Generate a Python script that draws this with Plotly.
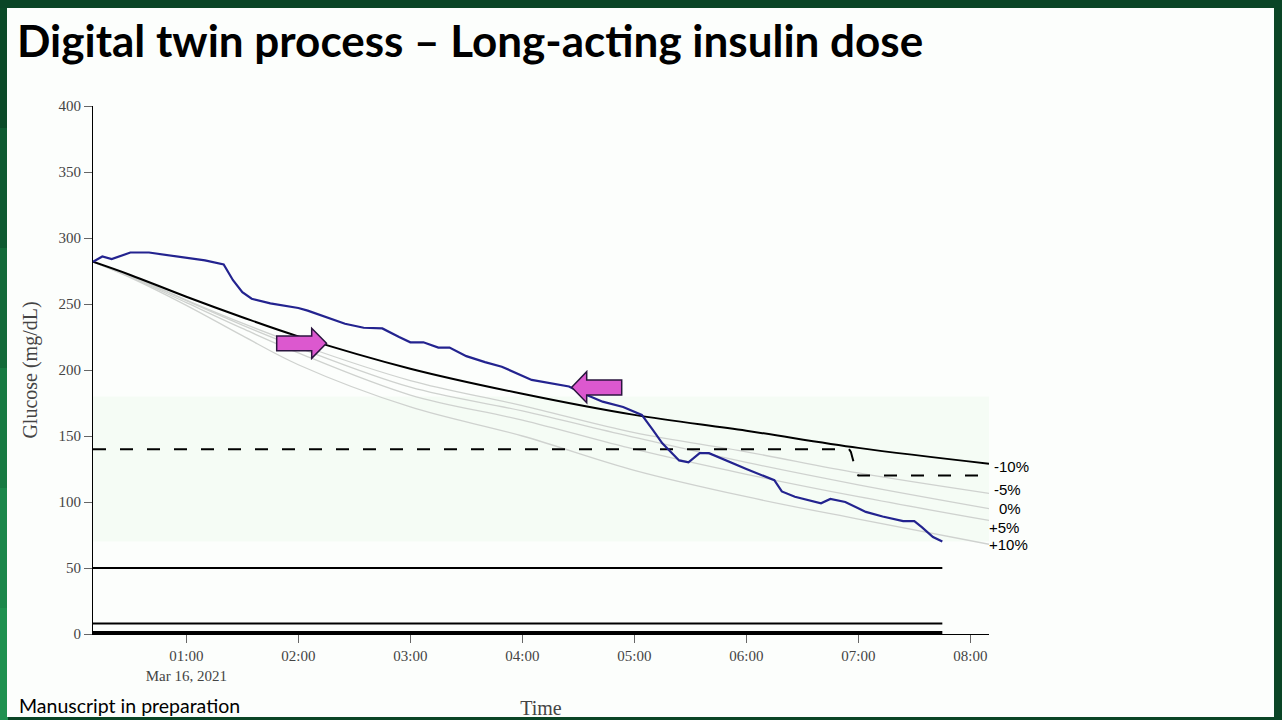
import plotly.graph_objects as go

DAY = "2021-03-16 "

# ---- CGM (measured glucose) ----
cgm_times = ["00:10", "00:15", "00:20", "00:30", "00:40", "01:10", "01:20", "01:25", "01:30",
             "01:35", "01:45", "02:00", "02:05", "02:15", "02:25", "02:35", "02:45", "02:54",
             "03:00", "03:07", "03:15", "03:21", "03:30", "03:40", "03:49", "04:05", "04:14",
             "04:25", "04:32", "04:43", "04:54", "05:04", "05:10", "05:15", "05:24", "05:29",
             "05:35", "05:40", "06:00", "06:10", "06:15", "06:19", "06:26", "06:40", "06:45",
             "06:53", "07:04", "07:13", "07:24", "07:30", "07:34", "07:40", "07:45"]
cgm_values = [282, 286, 284, 289, 289, 283, 280, 268, 259,
              254, 250.5, 247, 245, 240, 235, 232, 231.5, 225,
              221, 221, 217, 217, 210.5, 206, 202.5, 192.5, 190,
              187.5, 182.5, 176, 172, 166, 154.5, 144.5, 131.5, 130,
              137, 137, 125, 119, 116.5, 108, 104, 99, 102.3,
              100, 92.5, 89, 85.5, 85.5, 81, 73.5, 70]

# ---- Digital twin simulations (long-acting dose variations) ----
sim_times = ["00:10", "00:30", "01:00", "01:30", "02:00", "03:00", "04:00", "05:00",
             "06:00", "07:00", "08:10"]
sim_minus10 = [282, 272, 255.5, 240, 225.5, 201, 182, 166, 154, 141, 129]
sim_minus5 = [282, 271.5, 253, 235.5, 219.5, 192, 173, 152.5, 138, 122, 106.5]
sim_zero = [282, 271, 252.5, 234, 217, 187, 169, 149, 130, 113, 95]
sim_plus5 = [282, 270.5, 251, 231.5, 213, 181, 162, 140, 121, 104, 86]
sim_plus10 = [282, 270, 249, 226, 204, 172, 150, 124, 104, 87, 68]
sim_labels = ["-10%", "-5%", "0%", "+5%", "+10%"]

# ---- Target / threshold lines ----
target_times = ["00:10", "06:55", "06:56", "06:59", "07:00", "08:10"]
target_values = [140, 140, 138, 122, 120, 120]
flat_times = ["00:10", "07:45"]
hypo_level = [50, 50]
low_line_a = [8, 8]
low_line_b = [1, 1]
range_low, range_high = 70, 180

y_ticks = [0, 50, 100, 150, 200, 250, 300, 350, 400]

# plot-area pixel geometry (for text/shape placement)
L, R, T, B = 93, 989, 106, 634
W, H = 1282, 720


def px(x):
    return (x - L) / (R - L)


def py(y):
    return (B - y) / (B - T)


def ts(lst):
    return [DAY + t for t in lst]


fig = go.Figure()

gray = "#cfd2cf"
for vals in [sim_plus10, sim_plus5, sim_zero, sim_minus5]:
    fig.add_trace(go.Scatter(x=ts(sim_times), y=vals, mode="lines",
                             line=dict(color=gray, width=1.3, shape="spline"),
                             showlegend=False, hoverinfo="skip"))
fig.add_trace(go.Scatter(x=ts(sim_times), y=sim_minus10, mode="lines",
                         line=dict(color="black", width=2, shape="spline"),
                         showlegend=False))
fig.add_trace(go.Scatter(x=ts(target_times), y=target_values, mode="lines",
                         line=dict(color="black", width=2, dash="13px,14px"),
                         showlegend=False))
for vals, w in [(hypo_level, 2), (low_line_a, 2), (low_line_b, 3.5)]:
    fig.add_trace(go.Scatter(x=ts(flat_times), y=vals, mode="lines",
                             line=dict(color="black", width=w),
                             showlegend=False, cliponaxis=False))
fig.add_trace(go.Scatter(x=ts(cgm_times), y=cgm_values, mode="lines",
                         line=dict(color="#23238f", width=2.2),
                         showlegend=False))

serif = "Liberation Serif"
fig.update_xaxes(type="date", range=[DAY + "00:10", DAY + "08:10"], automargin=False,
                 showline=True, linecolor="black", linewidth=1,
                 ticks="outside", ticklen=8, tickcolor="#666", tickwidth=1,
                 dtick=3600000, tick0=DAY + "00:00",
                 showgrid=False, zeroline=False,
                 tickfont=dict(family=serif, size=15, color="#444"),
                 title=dict(text="Time", font=dict(family=serif, size=20, color="#444"),
                            standoff=18))
fig.update_yaxes(range=[0, 400], tickvals=y_ticks, automargin=False,
                 showline=True, linecolor="black", linewidth=1,
                 ticks="outside", ticklen=8, tickcolor="#666", tickwidth=1,
                 showgrid=False, zeroline=False,
                 tickfont=dict(family=serif, size=15, color="#444"),
                 title=dict(text="Glucose (mg/dL)",
                            font=dict(family=serif, size=20, color="#444"),
                            standoff=15))

shapes = []
# slide frame
shapes.append(dict(type="rect", xref="paper", yref="paper",
                   x0=px(0), x1=px(W), y0=py(H), y1=py(0),
                   fillcolor="#0a4526", line=dict(width=0), layer="below"))
left_cols = ["#0b4a28", "#0f5a31", "#136a39", "#177a42", "#1b874a", "#1e914f"]
seg = H / len(left_cols)
for i, c in enumerate(left_cols):
    shapes.append(dict(type="rect", xref="paper", yref="paper",
                       x0=px(0), x1=px(8), y0=py(8 + i * seg + seg if i < len(left_cols) - 1 else H),
                       y1=py(8 + i * seg),
                       fillcolor=c, line=dict(width=0), layer="below"))
shapes.append(dict(type="rect", xref="paper", yref="paper",
                   x0=px(7), x1=px(1274), y0=py(717), y1=py(8),
                   fillcolor="#fcfefc", line=dict(width=0), layer="below"))
# target range band
shapes.append(dict(type="rect", xref="x", yref="y",
                   x0=DAY + "00:10", x1=DAY + "08:10", y0=range_low, y1=range_high,
                   fillcolor="rgba(200,240,200,0.12)", line=dict(width=0), layer="below"))


def poly(points):
    return "M " + " L ".join(f"{px(a):.5f},{py(b):.5f}" for a, b in points) + " Z"


arrow_right = [(276.7, 336), (311.7, 336), (311.7, 328.3), (326.5, 343.3),
               (311.7, 358.3), (311.7, 350.7), (276.7, 350.7)]
arrow_left = [(571.7, 387.3), (586.7, 371.7), (586.7, 380), (621.7, 380),
              (621.7, 395), (586.7, 395), (586.7, 402.7)]
for pts in [arrow_right, arrow_left]:
    shapes.append(dict(type="path", xref="paper", yref="paper", path=poly(pts),
                       fillcolor="#dc58cf", line=dict(color="#2b163f", width=1.5),
                       layer="above"))

annotations = [
    dict(text="<b>Digital twin process – Long-acting insulin dose</b>",
         xref="paper", yref="paper", x=px(15), y=py(40), xanchor="left", yanchor="middle",
         showarrow=False, font=dict(family="Lato", size=44, color="black")),
    dict(text="Manuscript in preparation", xref="paper", yref="paper",
         x=px(17), y=py(706), xanchor="left", yanchor="middle",
         showarrow=False, font=dict(family="Lato", size=19.5, color="black")),
]
label_pos = [(992, 466), (992, 489), (997, 509), (987, 527), (987, 544)]
for lab, (lx, ly) in zip(sim_labels, label_pos):
    annotations.append(dict(text=lab, xref="paper", yref="paper", x=px(lx), y=py(ly),
                            xanchor="left", yanchor="middle", showarrow=False,
                            font=dict(family="Liberation Sans", size=15, color="black")))

fig.update_layout(width=W, height=H, autosize=False,
                  margin=dict(l=L, r=W - R, t=T, b=H - B, pad=0),
                  paper_bgcolor="#fcfefc", plot_bgcolor="rgba(0,0,0,0)",
                  shapes=shapes, annotations=annotations, showlegend=False)

fig.write_html("out.html", config={"displayModeBar": False},
               post_script="document.body.style.margin='0';")
